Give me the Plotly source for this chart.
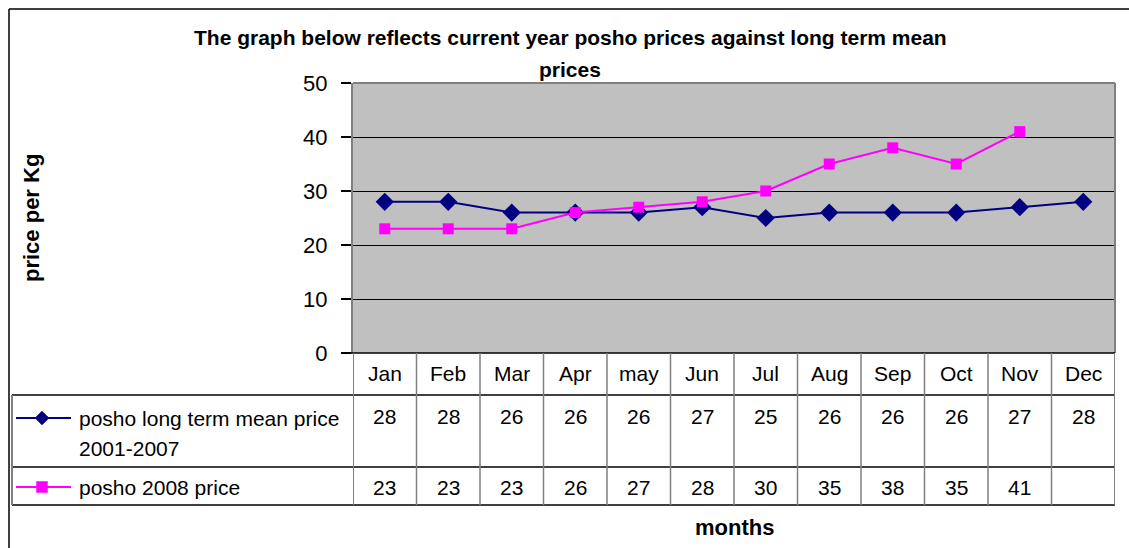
import plotly.graph_objects as go

months = ["Jan", "Feb", "Mar", "Apr", "may", "Jun", "Jul", "Aug", "Sep", "Oct", "Nov", "Dec"]
long_term_mean = [28, 28, 26, 26, 26, 27, 25, 26, 26, 26, 27, 28]
price_2008 = [23, 23, 23, 26, 27, 28, 30, 35, 38, 35, 41, None]
series_names = ["posho long term mean price", "2001-2007", "posho 2008 price"]
y_ticks = [0, 10, 20, 30, 40, 50]

W, H = 1129, 548
FONT = "Arial, Liberation Sans, sans-serif"
NAVY = "#000080"
MAGENTA = "#FF00FF"


def px(x):
    return x / W


def py(y):
    return 1 - y / H


# layout geometry (pixels)
PL, PR, PT, PB = 353, 1115, 83, 353
ROW1_TOP, ROW2_TOP, TBL_BOTTOM = 395, 467, 505
TBL_LEFT = 12

xs = [i + 0.5 for i in range(len(months))]

fig = go.Figure()
fig.add_trace(go.Scatter(
    x=xs, y=long_term_mean, mode="lines+markers",
    line=dict(color=NAVY, width=2),
    marker=dict(symbol="diamond", size=14, color=NAVY),
    showlegend=False, cliponaxis=False))
fig.add_trace(go.Scatter(
    x=xs, y=price_2008, mode="lines+markers",
    line=dict(color=MAGENTA, width=2),
    marker=dict(symbol="square", size=11, color=MAGENTA),
    showlegend=False, cliponaxis=False))

shapes = []
# outer chart border
shapes.append(dict(type="line", xref="paper", yref="paper", x0=px(9), x1=px(W), y0=py(9), y1=py(9),
                   line=dict(color="black", width=1.5)))
shapes.append(dict(type="line", xref="paper", yref="paper", x0=px(9), x1=px(9), y0=py(9), y1=py(H),
                   line=dict(color="black", width=1.5)))
# plot area borders (top, right)
shapes.append(dict(type="line", xref="paper", yref="paper", x0=px(PL), x1=px(PR), y0=py(PT), y1=py(PT),
                   line=dict(color="#808080", width=2)))
shapes.append(dict(type="line", xref="paper", yref="paper", x0=px(PR), x1=px(PR), y0=py(PT), y1=py(PB),
                   line=dict(color="#808080", width=2)))
# table horizontal lines
shapes.append(dict(type="line", xref="paper", yref="paper", x0=px(PL - 10), x1=px(PR), y0=py(PB), y1=py(PB),
                   line=dict(color="black", width=1.5)))
for yy in [ROW1_TOP, ROW2_TOP, TBL_BOTTOM]:
    shapes.append(dict(type="line", xref="paper", yref="paper", x0=px(TBL_LEFT), x1=px(PR), y0=py(yy), y1=py(yy),
                       line=dict(color="black", width=1.5)))
# table left border
shapes.append(dict(type="line", xref="paper", yref="paper", x0=px(TBL_LEFT), x1=px(TBL_LEFT),
                   y0=py(ROW1_TOP), y1=py(TBL_BOTTOM), line=dict(color="#808080", width=2)))
# column separators
for i in range(len(months) + 1):
    shapes.append(dict(type="line", xref="x", yref="paper", x0=i, x1=i, y0=py(PB), y1=py(TBL_BOTTOM),
                       line=dict(color="#808080", width=2 if i in (0, len(months)) else 1.5)))

# legend glyphs (line + marker) in the table's first column
for yy, color, sym in [(418, NAVY, "diamond"), (487, MAGENTA, "square")]:
    shapes.append(dict(type="line", xref="paper", yref="paper", x0=px(16), x1=px(71), y0=py(yy), y1=py(yy),
                       line=dict(color=color, width=2)))
    cx = 42
    if sym == "diamond":
        r = 7
        path = (f"M {px(cx)},{py(yy - r)} L {px(cx + r)},{py(yy)} L {px(cx)},{py(yy + r)} "
                f"L {px(cx - r)},{py(yy)} Z")
        shapes.append(dict(type="path", xref="paper", yref="paper", path=path,
                           fillcolor=color, line=dict(color=color, width=0.5)))
    else:
        r = 5.5
        shapes.append(dict(type="rect", xref="paper", yref="paper", x0=px(cx - r), x1=px(cx + r),
                           y0=py(yy - r), y1=py(yy + r), fillcolor=color, line=dict(color=color, width=0.5)))

annotations = []
# title
annotations.append(dict(text="<b>The graph below reflects current year posho prices against long term mean</b>",
                        xref="paper", yref="paper", x=px(570), y=py(38), xanchor="center", yanchor="middle",
                        showarrow=False, font=dict(family=FONT, size=21, color="black")))
annotations.append(dict(text="<b>prices</b>",
                        xref="paper", yref="paper", x=px(570), y=py(69), xanchor="center", yanchor="middle",
                        showarrow=False, font=dict(family=FONT, size=21, color="black")))
# y axis title
annotations.append(dict(text="<b>price per Kg</b>", xref="paper", yref="paper", x=px(31), y=py(218),
                        xanchor="center", yanchor="middle", textangle=-90, showarrow=False,
                        font=dict(family=FONT, size=22, color="black")))
# x axis title
annotations.append(dict(text="<b>months</b>", xref="paper", yref="paper", x=px(734), y=py(527),
                        xanchor="center", yanchor="middle", showarrow=False,
                        font=dict(family=FONT, size=22, color="black")))
# month header row
for x, m in zip(xs, months):
    annotations.append(dict(text=m, xref="x", yref="paper", x=x, y=py(373), xanchor="center", yanchor="middle",
                            showarrow=False, font=dict(family=FONT, size=21, color="black")))
# data rows
for x, v in zip(xs, long_term_mean):
    annotations.append(dict(text=str(v), xref="x", yref="paper", x=x, y=py(416), xanchor="center",
                            yanchor="middle", showarrow=False, font=dict(family=FONT, size=21, color="black")))
for x, v in zip(xs, price_2008):
    if v is None:
        continue
    annotations.append(dict(text=str(v), xref="x", yref="paper", x=x, y=py(487), xanchor="center",
                            yanchor="middle", showarrow=False, font=dict(family=FONT, size=21, color="black")))
# legend labels
for text, yy in zip(series_names, [418, 448, 487]):
    annotations.append(dict(text=text, xref="paper", yref="paper", x=px(77), y=py(yy), xanchor="left",
                            yanchor="middle", showarrow=False, font=dict(family=FONT, size=21, color="black")))

fig.update_layout(
    width=W, height=H, margin=dict(l=0, r=0, t=0, b=0, pad=0, autoexpand=False), autosize=False,
    paper_bgcolor="white", plot_bgcolor="#C0C0C0",
    xaxis=dict(domain=[px(PL), px(PR)], range=[0, 12], showticklabels=False, showgrid=False,
               zeroline=False, ticks="", fixedrange=True, automargin=False),
    yaxis=dict(domain=[py(PB), py(PT)], range=[0, 50], tickvals=y_ticks, ticks="outside", ticklen=10,
               tickcolor="black", tickwidth=1.5, showline=True, linecolor="#808080", linewidth=2,
               showgrid=True, gridcolor="black", gridwidth=1, zeroline=False, automargin=False,
               tickfont=dict(family=FONT, size=22, color="black"), ticklabelstandoff=9),
    shapes=shapes, annotations=annotations,
)

post = (
    "document.body.style.margin='0';document.body.style.padding='0';"
    "document.documentElement.style.overflow='hidden';"
)
fig.write_html("out.html", config={"displayModeBar": False, "responsive": False}, post_script=post)
